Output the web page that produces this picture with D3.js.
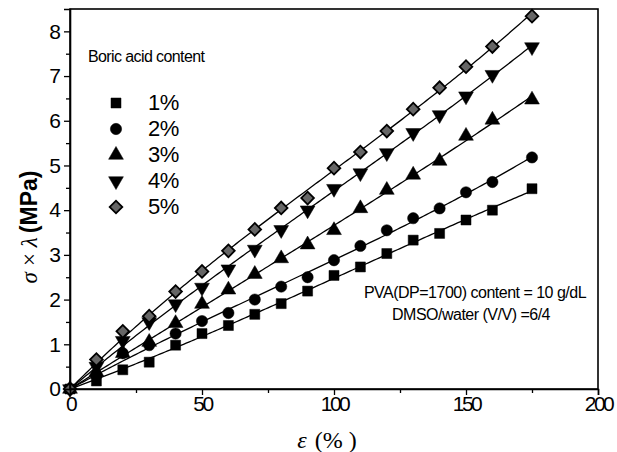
<!DOCTYPE html>
<html>
<head>
<meta charset="utf-8">
<script src="https://cdn.jsdelivr.net/npm/d3@7"></script>
<style>
  body { margin: 0; background: #fff; }
  svg { display: block; }
</style>
</head>
<body>
<div id="chart"></div>
<script>
// strain values (%) shared by every series
const strain = [0, 10, 20, 30, 40, 50, 60, 70, 80, 90, 100, 110, 120, 130, 140, 150, 160, 175];

// sigma x lambda (MPa) for each boric acid content
const boric1 = [0, 0.18, 0.43, 0.6, 0.98, 1.24, 1.42, 1.67, 1.91, 2.19, 2.54, 2.73, 3.03, 3.33, 3.48, 3.78, 4.0, 4.48];
const boric2 = [0, 0.3, 0.8, 0.98, 1.24, 1.52, 1.7, 2.0, 2.29, 2.5, 2.88, 3.2, 3.55, 3.82, 4.04, 4.4, 4.63, 5.18];
const boric3 = [0, 0.38, 0.8, 1.05, 1.47, 1.9, 2.22, 2.57, 2.92, 3.23, 3.55, 4.04, 4.45, 4.79, 5.1, 5.66, 6.02, 6.47];
const boric4 = [0, 0.5, 1.08, 1.5, 1.9, 2.27, 2.68, 3.12, 3.56, 4.0, 4.48, 4.83, 5.28, 5.73, 6.13, 6.55, 7.03, 7.65];
const boric5 = [0, 0.66, 1.29, 1.63, 2.18, 2.63, 3.09, 3.57, 4.05, 4.27, 4.94, 5.3, 5.77, 6.26, 6.74, 7.21, 7.66, 8.34];

const labels = ["1%", "2%", "3%", "4%", "5%"];
const xTicks = [0, 50, 100, 150, 200];
const yTicks = [0, 1, 2, 3, 4, 5, 6, 7, 8];

const series = [boric1, boric2, boric3, boric4, boric5];

const width = 617, height = 452;
const plotLeft = 70, plotRight = 598, plotTop = 9, plotBottom = 389;

const svg = d3.select("#chart")
  .append("svg")
  .attr("width", width)
  .attr("height", height);

const x = d3.scaleLinear().domain([0, 200]).range([plotLeft, plotRight]);
const y = d3.scaleLinear().domain([0, 8.5]).range([plotBottom, plotTop]);

// marker shapes, one per series
const shapes = [
  { type: d3.symbolSquare, size: 100, rot: 0, fill: "#000" },
  { type: d3.symbolCircle, size: 100, rot: 0, fill: "#000" },
  { type: d3.symbolTriangle, size: 95, rot: 0, fill: "#000" },
  { type: d3.symbolTriangle, size: 95, rot: 180, fill: "#000" },
  { type: d3.symbolSquare, size: 80, rot: 45, fill: "#666" }
];

// least squares fit y = a x + b x^2 + c x^3 (through origin), like the fit lines
function fitCurve(vals) {
  const pw = (v, k) => Math.pow(v / 100, k);
  const M = [[0, 0, 0], [0, 0, 0], [0, 0, 0]], r = [0, 0, 0];
  strain.forEach((s, i) => {
    for (let j = 0; j < 3; j++) {
      r[j] += pw(s, j + 1) * vals[i];
      for (let k = 0; k < 3; k++) M[j][k] += pw(s, j + 1) * pw(s, k + 1);
    }
  });
  // gaussian elimination
  for (let c = 0; c < 3; c++) {
    for (let rr = c + 1; rr < 3; rr++) {
      const f = M[rr][c] / M[c][c];
      for (let k = c; k < 3; k++) M[rr][k] -= f * M[c][k];
      r[rr] -= f * r[c];
    }
  }
  const coef = [0, 0, 0];
  for (let c = 2; c >= 0; c--) {
    let sum = r[c];
    for (let k = c + 1; k < 3; k++) sum -= M[c][k] * coef[k];
    coef[c] = sum / M[c][c];
  }
  const xs = d3.range(0, strain[strain.length - 1] + 0.01, 1);
  return xs.map(s => [s, coef[0] * pw(s, 1) + coef[1] * pw(s, 2) + coef[2] * pw(s, 3)]);
}

const line = d3.line()
  .x(d => x(d[0]))
  .y(d => y(d[1]));

svg.append("g")
  .selectAll("path")
  .data(series.map(fitCurve))
  .join("path")
  .attr("d", line)
  .attr("fill", "none")
  .attr("stroke", "#000")
  .attr("stroke-width", 1.3);

// markers
series.forEach((vals, s) => {
  const sh = shapes[s];
  svg.append("g")
    .selectAll("path")
    .data(vals)
    .join("path")
    .attr("d", d3.symbol().type(sh.type).size(sh.size))
    .attr("transform", (d, i) => `translate(${x(strain[i])},${y(d)}) rotate(${sh.rot})`)
    .attr("fill", sh.fill)
    .attr("stroke", "#000")
    .attr("stroke-width", s === 4 ? 1.8 : 0.5);
});

// frame
svg.append("rect")
  .attr("x", plotLeft)
  .attr("y", plotTop)
  .attr("width", plotRight - plotLeft)
  .attr("height", plotBottom - plotTop)
  .attr("fill", "none")
  .attr("stroke", "#000")
  .attr("stroke-width", 1.6);

// x axis
const xAxis = svg.append("g")
  .attr("transform", `translate(0,${plotBottom})`)
  .call(d3.axisBottom(x).tickValues(xTicks).tickSize(6).tickFormat(d3.format("d")));
svg.append("g")
  .attr("transform", `translate(0,${plotBottom})`)
  .call(d3.axisBottom(x).tickValues([25, 75, 125, 175]).tickSize(4).tickFormat(""))
  .call(g => g.select(".domain").remove());

xAxis.selectAll("text")
  .attr("font-family", "Liberation Sans, Arial, sans-serif")
  .attr("font-size", 21)
  .attr("letter-spacing", "-2.5px")
  .attr("fill", "#000")
  .attr("dy", "0.6em");

// y axis
const yAxis = svg.append("g")
  .attr("transform", `translate(${plotLeft},0)`)
  .call(d3.axisLeft(y).tickValues(yTicks).tickSize(6).tickPadding(3));
svg.append("g")
  .attr("transform", `translate(${plotLeft},0)`)
  .call(d3.axisLeft(y).tickValues(d3.range(0.5, 8.5, 1)).tickSize(4).tickFormat(""))
  .call(g => g.select(".domain").remove());

yAxis.selectAll("text")
  .attr("font-family", "Liberation Sans, Arial, sans-serif")
  .attr("font-size", 21)
  .attr("fill", "#000");

svg.selectAll(".domain").attr("stroke-width", 1.6);
svg.selectAll(".tick line").attr("stroke-width", 1.3);

// axis titles
svg.append("text")
  .attr("x", 327)
  .attr("y", 448)
  .attr("text-anchor", "middle")
  .attr("font-family", "Liberation Serif, Times New Roman, serif")
  .attr("font-size", 24)
  .html('<tspan font-style="italic">ε</tspan><tspan dx="8">(%</tspan><tspan dx="6">)</tspan>');

svg.append("text")
  .attr("transform", "translate(37,227) rotate(-90)")
  .attr("text-anchor", "middle")
  .attr("font-size", 23)
  .html('<tspan font-family="Liberation Serif, serif" font-style="italic">σ</tspan>' +
        '<tspan font-family="Liberation Serif, serif" dx="6">×</tspan>' +
        '<tspan font-family="Liberation Serif, serif" font-style="italic" dx="6">λ</tspan>' +
        '<tspan font-family="Liberation Sans, Arial, sans-serif" font-weight="bold" dx="4">(MPa)</tspan>');

// legend
svg.append("text")
  .attr("x", 88)
  .attr("y", 62)
  .attr("font-family", "Liberation Sans, Arial, sans-serif")
  .attr("font-size", 16)
  .attr("letter-spacing", "-0.6px")
  .text("Boric acid content");

const legendY = d3.scalePoint().domain(labels).range([103, 207]);

const legend = svg.append("g")
  .selectAll("g")
  .data(labels)
  .join("g")
  .attr("transform", d => `translate(0,${legendY(d)})`);

legend.append("path")
  .attr("d", (d, i) => d3.symbol().type(shapes[i].type).size(shapes[i].size)())
  .attr("transform", (d, i) => `translate(116,0) rotate(${shapes[i].rot})`)
  .attr("fill", (d, i) => shapes[i].fill)
  .attr("stroke", "#000")
  .attr("stroke-width", (d, i) => i === 4 ? 1.8 : 0.5);

legend.append("text")
  .attr("x", 148)
  .attr("y", 7)
  .attr("font-family", "Liberation Sans, Arial, sans-serif")
  .attr("font-size", 22)
  .attr("letter-spacing", "-0.5px")
  .text(d => d);

// annotation
const note = svg.append("g")
  .attr("font-family", "Liberation Sans, Arial, sans-serif")
  .attr("font-size", 16)
  .attr("letter-spacing", "-0.5px")
  .attr("text-anchor", "middle");
note.append("text").attr("x", 475).attr("y", 298).text("PVA(DP=1700) content = 10 g/dL");
note.append("text").attr("x", 471).attr("y", 320).text("DMSO/water (V/V) =6/4");
</script>
</body>
</html>
